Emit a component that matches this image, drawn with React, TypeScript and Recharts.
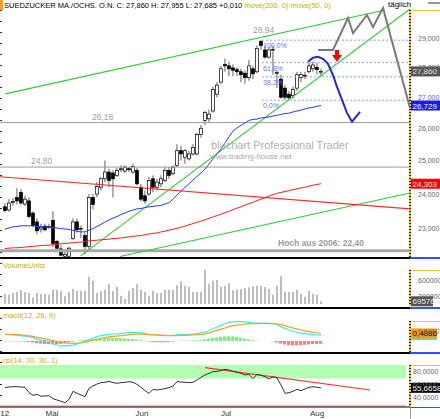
import React from 'react'
import {
  ComposedChart, Bar, Line, XAxis, YAxis, ReferenceLine, ReferenceArea, ReferenceDot, Cell,
} from 'recharts'

const FONT = 'Arial, "Liberation Sans", Helvetica, sans-serif'
const W = 440
const X_DOMAIN: [number, number] = [-1.25, 101.25]
const PRICE_DOMAIN: [number, number] = [22.23, 30.39]

// daily candles, mid April -> early August 2012
const opens = [
  23.63, 23.54, 23.77, 23.90, 24.05, 23.71, 23.80, 23.45, 23.20, 23.00,
  23.08, 23.05, 23.24, 22.65, 22.45, 22.25, 22.25, 22.74, 23.20, 23.00,
  22.82, 22.52, 23.90, 24.00, 24.20, 24.45, 24.65, 24.62, 24.55, 24.72,
  24.68, 24.75, 24.65, 24.70, 24.20, 23.95, 24.00, 24.45, 24.20, 24.30,
  24.40, 24.70, 24.60, 24.85, 25.30, 25.10, 25.05, 25.20, 25.20, 25.80,
  26.25, 26.30, 26.55, 27.10, 27.50, 28.10, 28.05, 27.98, 27.92, 27.85,
  27.80, 27.65, 27.95, 27.85, 28.90, 28.60, 28.35, 28.60, 27.80, 27.60,
  27.30, 27.10, 27.05, 27.30, 27.65, 27.72, 27.85, 27.95, 28.00, 27.85,
]
const highs = [
  23.74, 23.85, 23.88, 24.17, 24.14, 23.95, 23.90, 23.50, 23.30, 23.15,
  23.15, 23.15, 23.50, 22.70, 22.55, 22.40, 22.50, 23.30, 23.30, 23.10,
  22.90, 24.00, 24.00, 24.35, 24.50, 25.00, 24.75, 24.70, 24.78, 24.85,
  24.85, 24.80, 24.90, 24.78, 24.30, 24.10, 24.50, 24.55, 24.45, 24.55,
  24.80, 24.80, 24.85, 25.50, 25.45, 25.35, 25.30, 25.50, 25.85, 26.10,
  26.55, 26.60, 27.35, 27.50, 28.05, 28.30, 28.20, 28.10, 28.00, 27.95,
  27.90, 28.25, 28.05, 28.75, 28.94, 28.75, 28.70, 28.75, 27.90, 27.75,
  27.40, 27.20, 27.35, 27.85, 27.85, 27.85, 28.15, 28.20, 28.15, 27.955,
]
const lows = [
  23.46, 23.49, 23.66, 23.70, 23.68, 23.65, 23.30, 23.05, 22.85, 22.90,
  22.93, 23.00, 22.50, 22.40, 22.25, 22.20, 22.20, 22.70, 22.90, 22.75,
  22.30, 22.45, 23.55, 23.90, 24.10, 24.35, 24.20, 23.90, 24.50, 24.65,
  24.62, 24.65, 24.60, 24.25, 23.78, 23.72, 23.95, 24.05, 24.10, 24.20,
  24.35, 24.45, 24.55, 24.80, 25.00, 24.90, 25.00, 25.15, 25.15, 25.70,
  26.10, 26.20, 26.50, 27.00, 27.45, 27.85, 27.70, 27.70, 27.70, 27.50,
  27.45, 27.55, 27.60, 27.80, 28.60, 28.30, 28.30, 27.75, 27.30, 26.95,
  26.90, 26.90, 26.95, 27.20, 27.50, 27.60, 27.80, 27.85, 27.75, 27.685,
]
const closes = [
  23.52, 23.74, 23.78, 23.80, 23.74, 23.85, 23.35, 23.10, 22.95, 23.05,
  22.98, 23.07, 22.60, 22.47, 22.28, 22.30, 22.47, 23.20, 22.98, 23.02,
  22.52, 23.90, 23.70, 24.22, 24.45, 24.65, 24.40, 24.45, 24.70, 24.75,
  24.80, 24.72, 24.82, 24.30, 23.85, 23.80, 24.40, 24.20, 24.35, 24.45,
  24.70, 24.55, 24.80, 25.30, 25.20, 25.30, 25.20, 25.40, 25.80, 26.00,
  26.50, 26.45, 27.25, 27.40, 27.95, 28.05, 27.95, 27.90, 27.85, 27.75,
  27.65, 28.05, 27.78, 28.65, 28.75, 28.35, 28.60, 28.62, 27.82, 27.00,
  27.00, 26.98, 27.25, 27.75, 27.75, 27.73, 28.05, 28.08, 27.92, 27.86,
]
// move(50, 0)
const ma50 = [
  23.00, 23.03, 23.06, 23.07, 23.09, 23.09, 23.09, 23.09, 23.07, 23.07,
  23.06, 23.06, 23.04, 23.03, 23.01, 23.00, 22.99, 22.96, 22.94, 22.92,
  22.92, 22.97, 23.01, 23.07, 23.13, 23.20, 23.25, 23.31, 23.35, 23.41,
  23.45, 23.50, 23.54, 23.57, 23.58, 23.61, 23.63, 23.64, 23.66, 23.67,
  23.71, 23.75, 23.85, 23.97, 24.08, 24.19, 24.30, 24.41, 24.52, 24.62,
  24.74, 24.89, 25.05, 25.20, 25.35, 25.54, 25.73, 25.91, 26.01, 26.09,
  26.17, 26.25, 26.28, 26.29, 26.33, 26.34, 26.36, 26.39, 26.41, 26.44,
  26.47, 26.48, 26.52, 26.55, 26.58, 26.62, 26.65, 26.67, 26.70, 26.729,
]
// move(200, 0)
const ma200 = [
  22.46, 22.47, 22.48, 22.48, 22.49, 22.50, 22.51, 22.52, 22.53, 22.54,
  22.55, 22.55, 22.57, 22.58, 22.59, 22.60, 22.61, 22.62, 22.63, 22.64,
  22.65, 22.67, 22.68, 22.69, 22.70, 22.71, 22.72, 22.73, 22.74, 22.75,
  22.77, 22.78, 22.80, 22.81, 22.82, 22.84, 22.86, 22.88, 22.89, 22.92,
  22.94, 22.97, 22.99, 23.02, 23.05, 23.08, 23.12, 23.15, 23.19, 23.22,
  23.26, 23.30, 23.34, 23.38, 23.42, 23.46, 23.50, 23.55, 23.59, 23.63,
  23.68, 23.72, 23.76, 23.81, 23.85, 23.89, 23.94, 23.98, 24.02, 24.05,
  24.07, 24.10, 24.13, 24.15, 24.18, 24.20, 24.23, 24.26, 24.28, 24.303,
]
const volumes = [
  255000, 238000, 280500, 306000, 357000, 306000, 280500, 170000, 280500, 255000,
  255000, 238000, 365500, 365500, 323000, 195500, 306000, 391000, 340000, 340000,
  340000, 697000, 595000, 280500, 323000, 365500, 510000, 323000, 442000, 212500,
  127500, 340000, 408000, 510000, 365500, 306000, 212500, 340000, 280500, 280500,
  365500, 365500, 365500, 476000, 578000, 459000, 442000, 306000, 306000, 306000,
  875500, 518500, 595000, 612000, 442000, 459000, 527000, 348500, 374000, 382500,
  408000, 425000, 450500, 467500, 467500, 433500, 382500, 238000, 467500, 714000,
  306000, 306000, 306000, 365500, 255000, 187000, 340000, 263500, 238000, 69576,
]
const macdLine = [
  0.36, 0.35, 0.34, 0.32, 0.29, 0.26, 0.23, 0.18, 0.11, 0.05,
  0.02, -0.05, -0.15, -0.22, -0.27, -0.27, -0.25, -0.24, -0.16, -0.07,
  -0.02, 0.07, 0.16, 0.24, 0.29, 0.33, 0.36, 0.38, 0.39, 0.42,
  0.44, 0.46, 0.47, 0.46, 0.44, 0.40, 0.36, 0.33, 0.31, 0.30,
  0.29, 0.29, 0.30, 0.33, 0.35, 0.35, 0.36, 0.38, 0.40, 0.44,
  0.49, 0.56, 0.67, 0.76, 0.85, 0.94, 1.02, 1.05, 1.07, 1.06,
  1.04, 1.02, 0.99, 0.97, 0.96, 0.96, 0.95, 0.94, 0.89, 0.78,
  0.69, 0.60, 0.53, 0.47, 0.43, 0.40, 0.37, 0.35, 0.34, 0.3229,
]
const macdSignal = [
  0.36, 0.36, 0.35, 0.35, 0.34, 0.31, 0.28, 0.25, 0.20, 0.16,
  0.12, 0.07, 0.02, -0.03, -0.07, -0.10, -0.12, -0.13, -0.13, -0.11,
  -0.07, -0.02, 0.04, 0.09, 0.15, 0.19, 0.22, 0.25, 0.27, 0.29,
  0.32, 0.35, 0.36, 0.37, 0.37, 0.36, 0.35, 0.34, 0.33, 0.32,
  0.31, 0.30, 0.29, 0.29, 0.30, 0.31, 0.32, 0.33, 0.35, 0.36,
  0.39, 0.44, 0.51, 0.58, 0.65, 0.71, 0.78, 0.84, 0.87, 0.90,
  0.92, 0.93, 0.94, 0.95, 0.96, 0.96, 0.96, 0.95, 0.94, 0.89,
  0.84, 0.77, 0.71, 0.65, 0.60, 0.55, 0.51, 0.47, 0.45, 0.4086,
]
const macdHist = [
  -0.02, -0.02, -0.02, -0.02, -0.02, -0.03, -0.05, -0.08, -0.12, -0.14,
  -0.16, -0.17, -0.18, -0.17, -0.16, -0.12, -0.08, -0.04, -0.01, 0.04,
  0.06, 0.09, 0.12, 0.14, 0.15, 0.16, 0.17, 0.17, 0.16, 0.15,
  0.14, 0.12, 0.10, 0.08, 0.05, 0.02, -0.01, -0.05, -0.06, -0.06,
  -0.06, -0.05, -0.03, 0.01, 0.02, 0.02, 0.02, 0.03, 0.04, 0.05,
  0.09, 0.13, 0.17, 0.20, 0.23, 0.25, 0.26, 0.25, 0.22, 0.18,
  0.13, 0.09, 0.05, 0.02, 0.01, 0.01, 0.00, -0.02, -0.08, -0.14,
  -0.19, -0.23, -0.25, -0.25, -0.23, -0.21, -0.19, -0.17, -0.16, -0.15,
]
const rsiValues = [
  55.9, 56.9, 57.4, 57.4, 56.9, 56.4, 48.2, 44.1, 45.6, 42.6,
  43.1, 43.6, 39.0, 36.9, 34.9, 32.8, 37.9, 50.3, 47.2, 44.6,
  42.1, 54.9, 58.5, 61.5, 63.6, 64.1, 65.6, 63.6, 62.6, 63.6,
  64.1, 65.1, 64.1, 61.0, 56.4, 51.3, 47.2, 53.3, 52.3, 53.3,
  54.4, 55.9, 58.5, 65.1, 64.6, 64.1, 63.6, 64.1, 67.7, 71.8,
  75.4, 77.9, 80.5, 81.0, 82.1, 84.1, 83.1, 81.0, 79.5, 77.9,
  75.4, 76.4, 69.7, 76.4, 74.9, 72.8, 69.2, 72.8, 70.8, 60.0,
  47.2, 48.2, 50.3, 53.3, 51.3, 53.8, 56.4, 57.4, 56.4, 55.6658,
]

const monthTicks = [-0.25, 11.75, 34.25, 55.25, 78]
const monthLabels = ["'12", 'Mai', 'Jun', 'Jul', 'Aug']
const priceTicks = [23, 24, 25, 26, 27, 28, 29]

// hand drawn projections (day index, price)
const grayIdx = [78.25, 82.0, 85.75, 87.0, 90.5, 92.0, 94.5, 101.25]
const grayPrice = [28.6, 28.6, 29.73, 29.19, 29.84, 29.41, 30.1, 26.65]
const blueIdx = [75.75, 77.0, 78.25, 79.5, 80.75, 82.0, 83.0, 84.25, 85.5, 86.75, 88.75]
const bluePrice = [28.19, 28.33, 28.36, 28.29, 28.12, 27.74, 27.34, 26.91, 26.49, 26.21, 26.52]

const trendLines = [
  { x1: 0, y1: 27.11, x2: 95, y2: 30.02, color: '#33cc33' },
  { x1: 18.9, y1: 22.26, x2: 101.25, y2: 30.06, color: '#33cc33' },
  { x1: 28.75, y1: 22.245, x2: 101.25, y2: 24.03, color: '#33cc33' },
  { x1: -1.25, y1: 24.51, x2: 101.25, y2: 23.57, color: '#ff2a2a' },
]
const fibHigh = 28.94
const fibLow = 26.9
const fibLevels = [1, 0.618, 0.382, 0]
const fibNames = ['100,0%', '61,8%', '38,2%', '0,0%']

const rows = opens.map((o, i) => ({
  i, o, h: highs[i], l: lows[i], c: closes[i], range: [lows[i], highs[i]],
  ma50: ma50[i], ma200: ma200[i], vol: volumes[i],
  macd: macdLine[i], signal: macdSignal[i], hist: macdHist[i], rsi: rsiValues[i],
}))
const grayPath = grayIdx.map((i, k) => ({ i, p: grayPrice[k] }))
const bluePath = blueIdx.map((i, k) => ({ i, p: bluePrice[k] }))

const fmt = (v: number, d: number) => v.toFixed(d).replace('.', ',')
const axisTick = { fontSize: 7, fill: '#666', fontFamily: FONT }

function TextAt(props: any) {
  const vb = props.viewBox || { x: 0, y: 0 }
  return (
    <text x={vb.x + (props.offX || 0)} y={vb.y + (props.offY || 0)} fill={props.color || '#a0a0a0'}
      fontSize={props.size || 8} fontWeight={props.weight || 'normal'} fontFamily={FONT}>
      {props.text}
    </text>
  )
}

function Tag(props: any) {
  const vb = props.viewBox || { x: 0, y: 0, width: 0 }
  const x = vb.x + vb.width + 1
  const y = vb.y
  return (
    <g>
      <rect x={x} y={y - 5} width={props.w || 29} height={10} fill={props.bg} />
      <text x={x + 1.5} y={y + 3} fontSize={8} fill={props.fg || '#fff'} fontFamily={FONT}>{props.text}</text>
    </g>
  )
}

function Candle(props: any) {
  const { x, y, width, height, payload } = props
  if (payload == null || height == null) return null
  const top = Math.min(y, y + height)
  const bot = Math.max(y, y + height)
  const { o, h, l, c } = payload
  const span = Math.log(h) - Math.log(l) || 1
  const py = (v: number) => top + ((Math.log(h) - Math.log(v)) / span) * (bot - top)
  const cx = x + width / 2
  const bt = py(Math.max(o, c))
  const bb = py(Math.min(o, c))
  return (
    <g>
      <line x1={cx} x2={cx} y1={top} y2={bot} stroke="#606060" strokeWidth={1} />
      <rect x={cx - 1.5} y={bt} width={3} height={Math.max(0.8, bb - bt)}
        fill={c >= o ? '#ffffff' : '#000000'} stroke="#000" strokeWidth={0.7} />
    </g>
  )
}

function ArrowDown(props: any) {
  const { cx, cy } = props
  return <path d={`M${cx - 2} ${cy - 5} h4 v5 h3 l-5 7 l-5 -7 h3 z`} fill="#ff0000" />
}

const abs = (left: number, top: number, width: number, height: number, extra: any = {}) => ({
  position: 'absolute' as const, left, top, width, height, ...extra,
})

function AxisColumn({ top, bottom }: { top: number, bottom: number }) {
  return (
    <>
      <div style={abs(410, top, 30, 1, { background: '#f2c040' })} />
      <div style={abs(409, top, 2, bottom - top, {
        background: 'repeating-linear-gradient(to bottom, #222 0px, #222 1px, #f2c040 1px, #f2c040 3px)',
      })} />
    </>
  )
}

export default function App() {
  const labelStyle = { fontFamily: FONT, fontSize: 7.5, color: '#c4b000', lineHeight: '9px', whiteSpace: 'nowrap' as const }
  return (
    <div style={abs(0, 0, W, 419, { overflow: 'hidden', background: '#fff', fontFamily: FONT })}>
      <AxisColumn top={10} bottom={257} />
      <AxisColumn top={270} bottom={306} />
      <AxisColumn top={321} bottom={352} />
      <AxisColumn top={365} bottom={407} />
      <div style={abs(0, 0, 2, 407, {
        background: 'repeating-linear-gradient(to bottom, transparent 0px, transparent 10px, #333 10px, #333 11px)',
      })} />

      {/* main price panel */}
      <div style={abs(0, 0, W, 257)}>
        <ComposedChart width={W} height={257} data={rows} margin={{ top: 0, right: 0, bottom: 0, left: 0 }}>
          <XAxis dataKey="i" type="number" domain={X_DOMAIN} hide allowDataOverflow />
          <YAxis orientation="right" scale="log" domain={PRICE_DOMAIN} allowDataOverflow ticks={priceTicks}
            tickFormatter={(v) => fmt(v, 3)} width={30} axisLine={false} tickLine={false} tick={axisTick} />
          <ReferenceLine y={26.18} stroke="#9a9a9a"
            label={<TextAt text="26,18" offX={92} offY={-3} size={8.5} />} />
          <ReferenceLine y={24.8} stroke="#9a9a9a"
            label={<TextAt text="24,80" offX={31} offY={-3} size={8.5} />} />
          <ReferenceLine y={22.4} stroke="#a8a8a8" strokeWidth={3}
            label={<TextAt text="Hoch aus 2006: 22,40" offX={278} offY={-5} size={8.5} weight="bold" color="#9a9a9a" />} />
          {trendLines.map((t, k) => (
            <ReferenceLine key={'t' + k} segment={[{ x: t.x1, y: t.y1 }, { x: t.x2, y: t.y2 }]}
              stroke={t.color} strokeWidth={1.1} ifOverflow="visible" />
          ))}
          {fibLevels.map((f, k) => (
            <ReferenceLine key={'f' + k}
              segment={[{ x: 64.25, y: fibLow + f * (fibHigh - fibLow) }, { x: 101.25, y: fibLow + f * (fibHigh - fibLow) }]}
              stroke="#8ea4ff" strokeDasharray="2 2" ifOverflow="visible"
              label={<TextAt text={fibNames[k]} offX={1} offY={8} size={7} color="#5a78ff" />} />
          ))}
          <ReferenceDot x={64.25} y={fibHigh} r={0} stroke="none" fill="none"
            label={<TextAt text="28,94" offX={-9} offY={-7} size={8.5} />} />
          <Line dataKey="ma200" stroke="#ff2020" strokeWidth={1} dot={false} isAnimationActive={false} />
          <Line dataKey="ma50" stroke="#2a3cff" strokeWidth={1} dot={false} isAnimationActive={false} />
          <Bar dataKey="range" barSize={3} isAnimationActive={false} shape={(p: any) => <Candle {...p} />} />
          <Line data={grayPath} dataKey="p" stroke="#7a7a7a" strokeWidth={2} dot={false} isAnimationActive={false} />
          <Line data={bluePath} dataKey="p" stroke="#2428c8" strokeWidth={2} dot={false} isAnimationActive={false} />
          <ReferenceDot x={83} y={28.42} r={6} shape={(p: any) => <ArrowDown {...p} />} />
          <ReferenceLine y={27.86} stroke="none" label={<Tag text="27,860" bg="#555" fg="#e8e8e8" />} />
          <ReferenceLine y={26.729} stroke="none" label={<Tag text="26,729" bg="#1a1aee" />} />
          <ReferenceLine y={24.303} stroke="none" label={<Tag text="24,303" bg="#ff0000" />} />
        </ComposedChart>
      </div>

      {/* volume */}
      <div style={abs(0, 259, W, 48)}>
        <ComposedChart width={W} height={48} data={rows} margin={{ top: 0, right: 0, bottom: 3, left: 0 }}>
          <XAxis dataKey="i" type="number" domain={X_DOMAIN} hide allowDataOverflow />
          <YAxis orientation="right" domain={[0, 1147500]} allowDataOverflow ticks={[200000, 600000]}
            width={30} axisLine={false} tickLine={false} tick={axisTick} />
          <Bar dataKey="vol" barSize={2} fill="#bdbdbd" isAnimationActive={false} />
          <ReferenceLine y={69576} stroke="none" label={<Tag text="69576" bg="#555" fg="#e8e8e8" w={22} />} />
        </ComposedChart>
      </div>

      {/* macd */}
      <div style={abs(0, 309, W, 43)}>
        <ComposedChart width={W} height={43} data={rows} margin={{ top: 0, right: 0, bottom: 0, left: 0 }}>
          <XAxis dataKey="i" type="number" domain={X_DOMAIN} hide allowDataOverflow />
          <YAxis orientation="right" domain={[-0.6, 1.744]} allowDataOverflow ticks={[0, 0.5]}
            tickFormatter={(v) => fmt(v, 4)} width={30} axisLine={false} tickLine={false} tick={axisTick} />
          <Bar dataKey="hist" barSize={3} isAnimationActive={false}>
            {rows.map((r) => <Cell key={r.i} fill={r.hist >= 0 ? '#7af07a' : '#ff7c7c'} />)}
          </Bar>
          <Line dataKey="macd" stroke="#30f0f0" strokeWidth={1.2} dot={false} isAnimationActive={false} />
          <Line dataKey="signal" stroke="#ffa020" strokeWidth={1.2} dot={false} isAnimationActive={false} />
          <ReferenceLine y={0.3229} stroke="none" label={<Tag text="0,3229" bg="#30f0f0" fg="#000" w={26} />} />
          <ReferenceLine y={0.4086} stroke="none" label={<Tag text="0,4086" bg="#ff9a10" fg="#000" w={26} />} />
        </ComposedChart>
      </div>

      {/* rsi with the time axis */}
      <div style={abs(0, 354, W, 65)}>
        <ComposedChart width={W} height={65} data={rows} margin={{ top: 2, right: 0, bottom: 0, left: 0 }}>
          <XAxis dataKey="i" type="number" domain={X_DOMAIN} allowDataOverflow ticks={monthTicks} interval={0}
            tickFormatter={(v) => monthLabels[monthTicks.indexOf(v)]} height={12}
            axisLine={{ stroke: '#000' }} tickLine={false} tickSize={1} tickMargin={2}
            tick={{ fontSize: 8, fill: '#333', fontFamily: FONT }} />
          <YAxis orientation="right" domain={[26.15, 104.6]} allowDataOverflow ticks={[40, 60, 80]}
            tickFormatter={(v) => fmt(v, 4)} width={30} axisLine={false} tickLine={false}
            tickSize={1} tickMargin={2} tick={axisTick} />
          <ReferenceArea x1={-1.25} x2={100.25} y1={70} y2={90.8} fill="#b2ffb2" fillOpacity={1} stroke="none" />
          <ReferenceArea x1={-1.25} x2={100.25} y1={26.15} y2={29.5} fill="#ffc6c6" fillOpacity={1} stroke="none" />
          <ReferenceLine segment={[{ x: 50, y: 86.7 }, { x: 91.25, y: 52.3 }]} stroke="#ff3030" strokeWidth={1.2} ifOverflow="visible" />
          <Line dataKey="rsi" stroke="#333" strokeWidth={1} dot={false} isAnimationActive={false} />
          <ReferenceLine y={55.6658} stroke="none" label={<Tag text="55,6658" bg="#000" />} />
        </ComposedChart>
      </div>

      {/* panel separators */}
      <div style={abs(0, 257, 410, 2, { background: '#000' })} />
      <div style={abs(410, 257, 30, 2, { background: '#3050ff' })} />
      <div style={abs(0, 307, 410, 2, { background: '#000' })} />
      <div style={abs(410, 307, 30, 2, { background: '#3050ff' })} />
      <div style={abs(0, 352, 410, 2, { background: '#000' })} />
      <div style={abs(410, 352, 30, 2, { background: '#3050ff' })} />
      <div style={abs(410, 407, 30, 12, { borderLeft: '1px solid #999', borderTop: '1px solid #3050ff', boxSizing: 'border-box' })} />

      {/* texts */}
      <div style={abs(0, 0, 3, 10, { background: '#f5a020' })} />
      <div style={{ ...abs(4, 1, 400, 10), fontSize: 7.5, lineHeight: '9px', whiteSpace: 'nowrap', color: '#000' }}>
        SUEDZUCKER MA./OCHS. O.N. C: 27,860 H: 27,955 L: 27,685 +0,010{' '}
        <span style={{ color: '#c4b000' }}>move(200, 0) move(50, 0)</span>
      </div>
      <div style={{ ...abs(388, 0, 40, 10), fontSize: 8, lineHeight: '10px', color: '#000' }}>täglich</div>
      <div style={abs(428, 2, 12, 2, { background: '#999' })} />
      <div style={{ ...abs(211, 138, 200, 14), fontSize: 11, lineHeight: '14px', color: '#b0b0b0', whiteSpace: 'nowrap' }}>
        bluchart Professional Trader
      </div>
      <div style={{ ...abs(210, 152, 120, 10), fontSize: 8, lineHeight: '10px', color: '#a8a8a8', whiteSpace: 'nowrap' }}>
        www.trading-house.net
      </div>
      <div style={{ ...abs(3, 261, 100, 9), ...labelStyle }}>VolumeUnits</div>
      <div style={{ ...abs(3, 311, 100, 9), ...labelStyle }}>macd(12, 26, 9)</div>
      <div style={{ ...abs(3, 356, 100, 9), ...labelStyle }}>rsi(14, 70, 30, 1)</div>
    </div>
  )
}
